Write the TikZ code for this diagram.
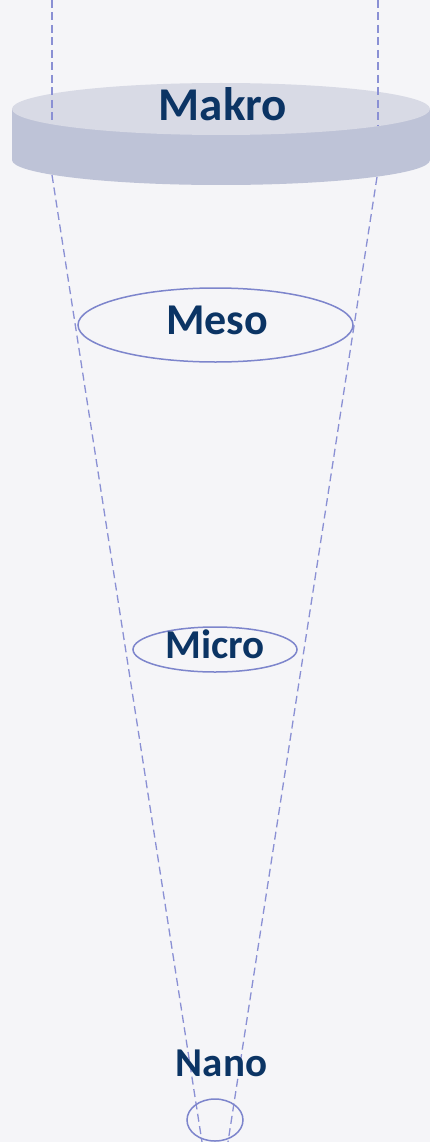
\documentclass[tikz,border=0pt]{standalone}
\usepackage{fontspec}
\setmainfont{Carlito}
\usetikzlibrary{shapes.geometric}
\definecolor{bgGrey}{HTML}{F5F5F8}
\definecolor{lineLav}{HTML}{8A90D4}
\definecolor{ringLav}{HTML}{7D85CC}
\definecolor{diskTop}{HTML}{D8DAE5}
\definecolor{diskSide}{HTML}{BEC3D7}
\definecolor{textNavy}{HTML}{0B3464}
\tikzset{
  guide/.style={draw=lineLav, line width=1.3pt, dash pattern=on 8pt off 4.5pt},
  ring/.style={ellipse, draw=ringLav, line width=1.5pt, inner sep=0pt},
  lvl/.style={text=textNavy, font=\bfseries\fontsize{#1}{#1}\selectfont, inner sep=0pt, anchor=base},
}

\begin{document}
\begin{tikzpicture}[x=1pt, y=-1pt]
  \fill[bgGrey] (0,0) rectangle (430,1142);
  \useasboundingbox (0,0) rectangle (430,1142);
  % converging guides
  \coordinate (lstart) at (52,175);
  \coordinate (lend) at (202,1142);
  \coordinate (rstart) at (377,177);
  \coordinate (rend) at (228,1142);
  \draw[guide] (lstart) -- (lend);
  \draw[guide] (rstart) -- (rend);
  % disk
  \fill[diskSide] (12,109) -- (12,160)
    arc[start angle=180, end angle=360, x radius=209pt, y radius=25pt] -- (430,109) -- cycle;
  \fill[diskTop] (221,109) ellipse [x radius=209pt, y radius=26pt];
  \coordinate (ltop) at (52,0);
  \coordinate (lface) at (52,124);
  \coordinate (rtop) at (378,0);
  \coordinate (rface) at (378,126);
  \draw[guide] (ltop) -- (lface);
  \draw[guide] (rtop) -- (rface);
  \node[lvl=47] (makro) at (223,121) {Makro};
  % rings
  \node[ring, minimum width=275pt, minimum height=74pt] (meso) at (215.5,325) {};
  \node[lvl=44] (mesotext) at (217,334.5) {Meso};
  \node[ring, minimum width=164pt, minimum height=45pt] (micro) at (215,649.5) {};
  \node[lvl=41] (microtext) at (215,658) {Micro};
  \node[lvl=41] (nanotext) at (221.5,1076.5) {Nano};
  \node[ring, minimum width=56pt, minimum height=42pt] (nano) at (215,1120) {};
\end{tikzpicture}
\end{document}
